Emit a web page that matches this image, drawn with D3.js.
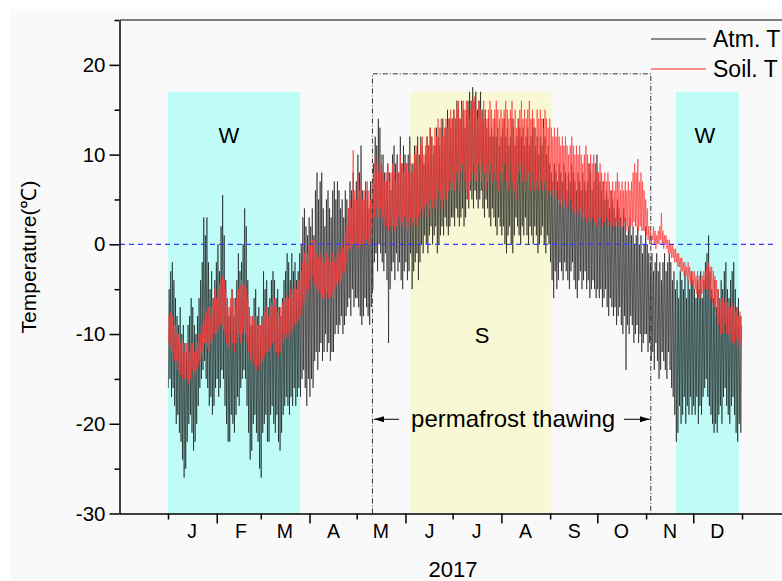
<!DOCTYPE html>
<html>
<head>
<meta charset="utf-8">
<script src="https://d3js.org/d3.v7.min.js"></script>
<style>
  body { margin: 0; background: #fff; }
  svg { display: block; font-family: "Liberation Sans", Arial, sans-serif; }
</style>
</head>
<body>
<script>
// daily min / max, 1 Jan 2017 .. 31 Dec 2017 (one row per month)
var atmMax = [
  -5,-3,-2,-4,-6,-8,-9,-7,-10,-9,-11,-12,-9,-8,-6,-7,-9,-10,-8,-6,-4,-2,3,1,3,-2,-5,-3,-6,-4,-2,
  0,-3,2,5.5,1,-4,-6,-8,-7,-5,-8,-6,-4,-1,-3,-2,0,4,2,-4,-7,-9,-8,-6,-5,-8,-7,-9,
  -8,-3,-5,-4,-7,-6,-4,-3,-4,-6,-5,-7,-8,-6,-4,-3,-1,-2,-4,-1,-3,-2,-4,-3,-1,0,3,4,2,1,3,
  2,4,1,6,8,5,7,8,4,2,5,6,4,3,6,7,5,7,6,4,5,3,6,5,4,7,6,8,5,7,
  10,8,11,6,5,7,6,4,7,5,9,12,11,14,13,9,10,8,7,9,8,6,10,11,9,10,8,12,9,11,10,
  9,10,12,8,9,11,10,12,10,12,11,9,10,12,11,13,12,10,11,13,12,11,13,14,12,13,15,14,13,14,
  15,14,16,15,14,16,15,13,15,16,17,16,17.5,16,17,15,16,17,15,14,15,13,14,12,13,12,14,12,13,11,12,
  13,14,12,13,11,12,14,13,11,12,14,13,12,13,11,12,13,11,12,14,13,11,12,10,12,11,14,12,10,11,9,
  8,7,9,8,7,9,8,7,9,8,6,8,7,9,8,7,6,8,7,6,8,7,6,7,9,8,6,7,9,10,
  8,7,6,7,5,6,5,4,6,5,4,3,5,4,3,2,4,3,1,2,3,1,2,0,1,2,0,1,-1,0,2,
  0,-1,-2,-1,-3,-2,-1,-3,-2,-4,-2,-1,-3,-2,-1,-2,-4,-3,-5,-4,-6,-3,-4,-5,-3,-6,-4,-5,-3,-4,
  -5,-6,-4,-5,-3,-6,-4,-2,-1,1,-3,-5,-6,-4,-7,-5,-6,-4,-5,-3,-2,-5,-6,-4,-3,-2,-5,-7,-6,-8,-9
];
var atmMin = [
  -16,-15,-17,-16,-18,-20,-19,-21,-22,-24,-26,-25,-22,-20,-19,-21,-23,-22,-20,-18,-16,-15,-14,-13,-15,-16,-18,-17,-19,-18,-16,
  -15,-17,-16,-14,-15,-18,-20,-22,-22,-19,-20,-21,-19,-17,-18,-16,-15,-14,-15,-18,-21,-24,-23,-20,-19,-21,-22,-25,
  -26,-21,-20,-19,-22,-22,-19,-18,-20,-21,-19,-22,-23,-21,-19,-18,-17,-18,-19,-17,-18,-16,-18,-17,-16,-17,-15,-14,-16,-18,-15,
  -17,-15,-16,-13,-12,-14,-12,-11,-13,-12,-10,-12,-11,-13,-12,-12,-10,-9,-10,-9,-8,-10,-9,-8,-7,-6,-8,-5,-7,-6,
  -6,-7,-8,-9,-8,-6,-7,-8,-9,-7,-5,-2,-1,-3,0,-1,-2,-3,-1,-4,-11,-5,-3,-2,-4,-1,-3,-2,-4,-5,-3,
  -2,-4,-3,-1,-5,-3,-2,-1,-4,-2,0,-1,1,0,-1,1,2,0,1,2,-1,0,1,2,1,3,2,1,2,3,
  3,2,4,3,2,3,4,2,3,5,4,6,5,4,6,5,4,5,6,4,3,5,4,3,2,4,3,2,1,3,2,
  1,2,0,-1,1,2,0,-1,1,3,2,1,0,2,1,3,1,0,2,1,0,2,1,-1,0,1,2,0,-1,1,0,
  -2,-4,-6,-3,-5,-4,-2,-3,-4,-2,-3,-4,-5,-3,-2,-4,-5,-6,-4,-3,-5,-4,-3,-5,-4,-6,-5,-4,-5,-6,
  -5,-6,-5,-7,-6,-5,-7,-8,-6,-7,-8,-7,-9,-8,-7,-9,-10,-8,-14,-9,-10,-8,-9,-11,-10,-9,-11,-10,-12,-11,-10,
  -10,-12,-11,-13,-12,-14,-11,-13,-15,-14,-12,-13,-14,-15,-12,-14,-16,-17,-19,-22,-21,-18,-20,-19,-17,-20,-18,-19,-17,-19,
  -18,-19,-17,-20,-18,-19,-17,-16,-15,-17,-18,-19,-20,-21,-20,-21,-19,-18,-20,-17,-16,-18,-19,-20,-18,-17,-19,-21,-22,-20,-21
];
var soilMax = [
  -8,-7.5,-8,-9,-9,-10,-10,-11,-10.5,-11,-12,-11,-11.5,-12,-11,-11,-12,-11.5,-11,-10,-10,-9,-8,-7,-7.5,-7,-8,-7,-6,-5,-6,
  -5,-4.5,-4,-3.5,-4,-5,-6,-7,-6,-5,-6,-7,-6,-5,-4.5,-4,-4.5,-4.5,-5,-6,-7,-8,-8,-8.5,-8,-9,-9,-9,
  -8.5,-8,-7.5,-7,-8,-7,-6.5,-7,-6,-7,-7.5,-8,-7,-6.5,-6,-6,-5.5,-6,-5,-5.5,-5,-4.5,-5,-4,-4,-3,-2,-1,-2,-1,0,
  0,0.5,0.5,0,-1,-1.5,-1,-2,-1.5,-2,-1,-1.5,-2.5,-2,-1,-2,-1.5,-1,-0.5,-1,0,-0.5,1,2,4,5,4,10.5,6,5,
  8,6,7,5,6,5,7,6,5,7,8,10,9,8,9,10,8,7,8,9,7,8,9,8,7,9,8,10,9,8,9,
  9,8,10,9,8,10,11,10,9,11,12,10,11,12,11,13,12,11,13,12,14,13,14,12,13,14,13,14,15,14,
  15,14,15,16,14,15,16,15,16,15,14,15,16,16.5,15,14,16,15,14,16,15,14,15,16,15,14,15,16,15,14,15,
  14,15,16,15,14,15,16,14,15,13,14,15,16,14,15,14,15,16,14,15,14,13,15,14,15,14,13,15,14,13,14,
  13,12,13,12,13,12,11,12,11,12,11,10,11,12,11,10,11,10,11,10,9,10,11,10,9,10,9,10,9,8,
  8,9,8,7,8,7,8,7,6,7,6,7,8,7,6,7,6,7,6,7,6,7,8,9,8,9.5,7,8,7,6,5,
  4,2,1.5,1,2,1.5,1,1.5,2,3.5,1.5,1,1,0.5,0.5,0,0,-0.5,-0.5,-1,-1,-1.5,-1.5,-2,-2,-2.5,-2,-2.5,-3,-3,
  -3,-3.5,-3,-3.5,-4,-3.5,-3,-3,-2.5,-2,-2.5,-2.5,-3,-3.5,-4,-5,-6,-6.5,-6,-6.5,-6,-6.5,-7,-7,-6.5,-7,-7.5,-7,-8,-7.5,-8
];
var soilMin = [
  -11,-11.5,-12,-12,-13,-13,-14,-14,-14.5,-15,-15,-14.5,-15,-15.5,-15,-14,-15,-14.5,-14,-13.5,-13,-12.5,-12,-11,-11,-11.5,-12,-11,-10.5,-10,-10,
  -10,-9.5,-9,-9,-9.5,-10,-11,-11.5,-11,-10,-11,-12,-11,-10.5,-10,-11,-10,-9.5,-10,-11,-12,-13,-12.5,-13,-13.5,-14,-13.5,-14,
  -13.5,-13,-12.5,-12,-12.5,-12,-11.5,-11,-11,-12,-12,-12.5,-12,-11,-11,-10.5,-10,-10.5,-10,-10,-9.5,-9,-9,-8.5,-8.5,-8,-7,-6,-6.5,-5.5,-5,
  -4,-4,-3.5,-4.5,-5,-5.5,-5,-5.5,-6,-6,-5,-5.5,-6,-6,-5.5,-6,-5,-4.5,-4,-4.5,-4,-3.5,-3,-2,-1,-0.5,-0.5,0,0,-0.5,
  0,-0.5,0,0,0.5,0,0.5,0,0,1,2,3,4,3,3,4,3,2,3,2,1.5,2,3,2,1.5,2,3,3,2,2.5,3,
  2,1.5,2,3,2,2.5,3,2,3,3.5,4,3,4,4.5,3,4,5,4,5,4,5,6,5,4,5,6,5,6,7,6,
  7,6,8,7,6,8,9,7,8,6,5,7,8,9,8,7,9,8,7,9,8,6,7,8,9,7,8,9,7,6,8,
  7,8,9,7,6,8,9,7,6,5,7,8,9,7,8,6,7,8,6,7,8,6,7,6,8,7,6,7,6,5,6,
  6,5.5,6,5,6,5,4.5,5,4,5,4,4.5,4,5,4,3.5,4,3,3.5,4,3,3.5,3,2.5,3,2.5,2,3,2.5,2,
  3,2.5,3,2,2.5,2,3,2.5,2,2,1.5,2,2.5,2,1.5,2,2,2.5,1.5,2,1.5,2,2,2.5,2,2,1.5,2,1.5,1.5,1.5,
  1,0.5,0,0,0.5,0,-0.5,0,0,0.5,0,-0.5,0,-0.5,-1,-1,-1.5,-1.5,-2,-2,-2.5,-2.5,-3,-3,-3.5,-3.5,-4,-4,-4.5,-4.5,
  -5,-5,-5.5,-6,-6,-5.5,-5.5,-5,-5,-5,-5.5,-6,-6.5,-7,-7.5,-8,-9,-10,-10,-9.5,-9,-10,-10,-10.5,-10,-11,-11,-10.5,-11,-11.5,-11
];

var monthLetters = ["J", "F", "M", "A", "M", "J", "J", "A", "S", "O", "N", "D"];
var yMajor = [-30, -20, -10, 0, 10, 20];
var yMinor = [-25, -15, -5, 5, 15, 25];

// shaded periods: [start, end, label, colour]
var seasons = [
  ["2017-01-01", "2017-03-26", "W", "#bffcf8"],
  ["2017-06-04", "2017-09-02", "S", "#f8f9d4"],
  ["2017-11-20", "2017-12-30", "W", "#bffcf8"]
];
var seasonTop = 17;
var thaw = ["2017-05-11", "2017-11-04"];
var thawTop = 19;
var thawArrowY = -19.5;

var W = 782, H = 581;
var parse = d3.utcParse("%Y-%m-%d");
var t0 = Date.UTC(2017, 0, 1);
function dayDate(t) { return new Date(t0 + t * 864e5); }

var x = d3.scaleUtc()
  .domain([new Date(Date.UTC(2016, 11, 1)), new Date(Date.UTC(2018, 1, 1))])
  .range([119.25, 790.75]);
var y = d3.scaleLinear().domain([-30, 25]).range([513.5, 20]);

var svg = d3.select("body").append("svg")
  .attr("width", W).attr("height", H);

svg.append("rect").attr("x", 11).attr("y", 9)
  .attr("width", W - 11).attr("height", H - 9)
  .style("fill", "#f9f9f9");

// season boxes
seasons.forEach(function (s) {
  var x0 = x(parse(s[0])), x1 = x(parse(s[1]));
  svg.append("rect")
    .attr("x", x0).attr("y", y(seasonTop))
    .attr("width", x1 - x0).attr("height", y(-30) - y(seasonTop))
    .style("fill", s[3]);
});

// series as a daily zig-zag (min in the morning, max in the afternoon)
function zig(mins, maxs) {
  var pts = [];
  mins.forEach(function (v, i) {
    pts.push([i + 0.25, v]);
    pts.push([i + 0.75, maxs[i]]);
  });
  return pts;
}
var line = d3.line()
  .x(function (p) { return x(dayDate(p[0])); })
  .y(function (p) { return y(p[1]); });

svg.append("path")
  .attr("d", line(zig(atmMin, atmMax)))
  .style("fill", "none")
  .style("stroke", "#000")
  .style("stroke-opacity", 0.62)
  .style("stroke-width", 0.9);

svg.append("path")
  .attr("d", line(zig(soilMin, soilMax)))
  .style("fill", "none")
  .style("stroke", "#ff3a3a")
  .style("stroke-opacity", 0.78)
  .style("stroke-width", 0.9);

// zero line
svg.append("line")
  .attr("x1", 120).attr("x2", 776)
  .attr("y1", y(0)).attr("y2", y(0))
  .style("stroke", "#3a3aff")
  .style("stroke-width", 1.2)
  .style("stroke-dasharray", "5,4");

// permafrost thawing box
var tx0 = x(parse(thaw[0])), tx1 = x(parse(thaw[1]));
svg.append("path")
  .attr("d", "M" + tx0 + "," + y(-30) + "V" + y(thawTop) + "H" + tx1 + "V" + y(-30))
  .style("fill", "none")
  .style("stroke", "#333")
  .style("stroke-width", 1)
  .style("stroke-dasharray", "5,2,1,2");

var defs = svg.append("defs");
defs.append("marker").attr("id", "ah")
  .attr("viewBox", "0 0 10 10").attr("refX", 10).attr("refY", 5)
  .attr("markerWidth", 10).attr("markerHeight", 10)
  .attr("markerUnits", "userSpaceOnUse")
  .attr("orient", "auto")
  .append("path").attr("d", "M0,2L10,5L0,8Z").style("fill", "#000");

var ay = y(thawArrowY);
svg.append("line")
  .attr("x1", 399).attr("x2", tx0 + 1.5).attr("y1", ay).attr("y2", ay)
  .style("stroke", "#000").style("stroke-width", 1)
  .attr("marker-end", "url(#ah)");
svg.append("line")
  .attr("x1", 624).attr("x2", tx1 - 1).attr("y1", ay).attr("y2", ay)
  .style("stroke", "#000").style("stroke-width", 1)
  .attr("marker-end", "url(#ah)");
svg.append("text")
  .attr("x", (tx0 + tx1) / 2 + 1.5).attr("y", 427)
  .attr("text-anchor", "middle")
  .style("font-size", "24px")
  .text("permafrost thawing");

// season labels
svg.append("text").attr("x", 229).attr("y", 143).attr("text-anchor", "middle")
  .style("font-size", "22px").text(seasons[0][2]);
svg.append("text").attr("x", 482).attr("y", 343).attr("text-anchor", "middle")
  .style("font-size", "22px").text(seasons[1][2]);
svg.append("text").attr("x", 705).attr("y", 143).attr("text-anchor", "middle")
  .style("font-size", "22px").text(seasons[2][2]);

// top frame
svg.append("line")
  .attr("x1", 120).attr("x2", W).attr("y1", 20).attr("y2", 20)
  .style("stroke", "#555").style("stroke-width", 1.5);

// y axis
var gy = svg.append("g").attr("transform", "translate(119.5,0)")
  .call(d3.axisLeft(y).tickValues(yMajor).tickSize(10).tickPadding(4).tickSizeOuter(0)
    .tickFormat(function (d) { return String(d); }));
svg.append("g").attr("transform", "translate(119.5,0)")
  .call(d3.axisLeft(y).tickValues(yMinor).tickSize(5).tickFormat("").tickSizeOuter(0))
  .select(".domain").remove();
svg.selectAll("g line, g path").style("stroke", "#000").style("stroke-width", 1.5);
gy.selectAll("text").style("font-size", "20.5px").style("fill", "#000")
  .attr("font-family", null);

// x axis
var monthStarts = d3.utcMonths(new Date(Date.UTC(2017, 0, 1)), new Date(Date.UTC(2018, 0, 2)));
var monthMids = monthStarts.slice(0, 12).map(function (d) {
  return new Date(Date.UTC(2017, d.getUTCMonth(), 16));
});
var gx = svg.append("g").attr("transform", "translate(0,513.5)")
  .call(d3.axisBottom(x).tickValues(monthStarts).tickFormat("").tickSizeOuter(0));
gx.selectAll(".tick line").attr("y2", function (d, i) { return i % 2 ? 10 : 6; });
gx.selectAll("line, path").style("stroke", "#000").style("stroke-width", 1.5);

var gl = svg.append("g").attr("transform", "translate(0,513.5)")
  .call(d3.axisBottom(x).tickValues(monthMids).tickSize(0).tickPadding(11)
    .tickFormat(function (d, i) { return monthLetters[i]; }));
gl.select(".domain").remove();
gl.selectAll("text").style("font-size", "19.5px").style("fill", "#000")
  .attr("font-family", null);

svg.append("text").attr("x", 453).attr("y", 577).attr("text-anchor", "middle")
  .style("font-size", "22px").text("2017");

svg.append("text")
  .attr("transform", "translate(36,257) rotate(-90)")
  .attr("text-anchor", "middle")
  .style("font-size", "21px")
  .text("Temperature(℃)");

// legend
var legend = [["Atm. T", "#666"], ["Soil. T", "#ff6b6b"]];
legend.forEach(function (l, i) {
  var ly = 39 + i * 30;
  svg.append("line").attr("x1", 651).attr("x2", 706).attr("y1", ly).attr("y2", ly)
    .style("stroke", l[1]).style("stroke-width", 1.5);
  svg.append("text").attr("x", 713).attr("y", ly + 8)
    .style("font-size", "23px").text(l[0]);
});
</script>
</body>
</html>
